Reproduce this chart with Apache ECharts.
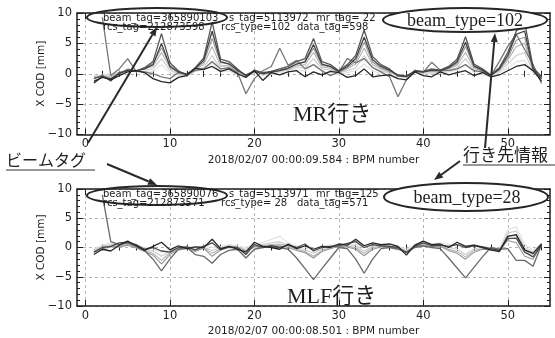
<!DOCTYPE html>
<html>
<head>
<meta charset="utf-8">
<script src="https://cdn.jsdelivr.net/npm/echarts@6/dist/echarts.min.js"></script>
<style>
  html, body { margin: 0; padding: 0; background: #fff; }
  #bpm-cod { width: 555px; height: 338px; }
</style>
</head>
<body>
<div id="bpm-cod"></div>
<script>
// BPM numbers (x)
var bpm = [1,2,3,4,5,6,7,8,9,10,11,12,13,14,15,16,17,18,19,20,21,22,23,24,25,26,27,28,29,30,
  31,32,33,34,35,36,37,38,39,40,41,42,43,44,45,46,47,48,49,50,51,52,53,54];
var xMajorTicks = [0, 10, 20, 30, 40, 50];
var xMinorTicks = [2,4,6,8,12,14,16,18,22,24,26,28,32,34,36,38,42,44,46,48,52,54];

// MR行き  (beam_type=102), X COD [mm], light -> dark
var mrLight1 = [-0.3,-0.2,0.0,0.3,0.4,0.3,0.5,0.4,1.5,0.2, -0.3,-0.5,0.4,0.6,1.8,0.3,0.5,-0.2,-0.5,0.2,
  -0.3,-0.1,0.2,0.3,0.6,0.4,1.5,0.3,0.2,-0.2, 0.2,0.5,1.6,0.4,0.1,-0.2,-0.5,-0.5,0.2,0.0,
  0.1,0.0,0.3,0.6,1.5,0.2,-0.1,-0.5,0.2,1.0, 2.0,2.2,0.2,-0.8];
var mrLight2 = [-0.5,-0.3,-0.2,0.2,0.6,0.4,0.7,0.8,2.5,0.6, -0.1,-0.4,0.5,1.0,3.0,0.8,0.9,0.1,-0.3,0.3,
  -0.1,0.1,0.4,0.6,1.0,1.0,2.5,0.8,0.6,0.1, 0.5,1.0,3.0,1.0,0.5,0.1,-0.3,-0.4,0.3,0.2,
  0.3,0.2,0.6,1.0,2.5,0.6,0.2,-0.3,0.4,1.6, 3.0,3.5,0.4,-0.6];
var mrLight3 = [-0.6,-0.4,-0.5,0.1,0.7,0.5,0.9,1.2,3.5,1.0, 0.1,-0.3,0.7,1.5,4.5,1.3,1.3,0.3,-0.2,0.4,
  0.0,0.2,0.5,0.8,1.3,1.5,3.5,1.1,0.9,0.2, 0.8,1.6,4.2,1.5,0.8,0.3,-0.2,-0.4,0.4,0.3,
  0.4,0.3,0.8,1.4,3.5,0.9,0.4,-0.2,0.6,2.2, 4.5,5.0,0.6,-0.7];
var mrMid = [-0.7,-0.5,-0.8,0.0,0.8,0.4,1.0,1.6,4.3,1.4, 0.3,-0.2,0.8,1.9,5.8,1.8,1.7,0.5,-0.3,0.5,
  0.1,0.3,0.6,1.0,1.6,1.9,4.2,1.4,1.1,0.3, 1.0,2.0,5.2,1.9,1.0,0.4,-0.2,-0.5,0.4,0.3,
  0.5,0.4,0.9,1.7,4.5,1.1,0.5,-0.2,0.7,2.6, 5.5,6.0,0.7,-0.9];
var mrOdd = [null,9.3,-0.3,0.8,2.5,0.4,0.3,0.0,-0.5,-0.8, 0.2,0.0,0.5,0.8,2.0,0.8,1.0,0.2,-3.3,-0.8,
  0.5,1.2,4.2,1.4,2.2,0.8,1.5,0.5,-0.3,0.3, 2.5,1.8,2.5,1.0,0.3,-0.5,-3.8,-1.0,0.6,0.2,
  1.9,0.6,0.5,0.8,1.5,0.5,0.3,-0.3,2.0,4.5, 6.5,4.0,1.5,-1.6];
var mrDark1 = [-0.8,-0.3,-1.2,0.2,0.5,0.4,1.0,2.0,6.6,1.8, 0.5,-0.2,1.0,2.6,8.5,2.4,2.0,0.8,-0.4,0.6,
  0.2,0.4,0.8,1.2,2.0,2.5,5.8,2.0,1.5,0.5, 1.5,3.0,7.2,2.8,1.5,0.8,-0.4,-0.5,0.5,0.4,
  0.8,0.6,1.2,2.4,6.1,1.6,0.8,-0.2,1.0,3.5, 7.0,8.5,1.0,-0.5];
var mrDark2 = [-1.2,-0.6,-0.8,0.0,0.6,0.5,0.8,1.5,5.0,1.2, 0.3,-0.1,0.9,2.2,7.0,2.0,1.6,0.6,-0.2,0.4,
  0.0,0.3,0.5,0.9,1.6,2.0,4.8,1.6,1.2,0.4, 1.2,2.5,6.0,2.3,1.2,0.6,-0.2,-0.4,0.4,0.3,
  0.6,0.5,1.0,2.0,5.2,1.3,0.6,-0.3,0.8,3.0, 6.5,7.0,0.8,-0.8];
var mrDark3 = [-1.5,-0.5,-1.0,-0.3,0.3,0.5,0.2,-0.8,-1.3,-1.5, -0.6,-0.3,0.9,0.7,1.2,0.4,0.8,0.0,-0.6,0.5,
  -1.1,0.2,-0.2,0.3,0.5,-0.5,0.3,-0.2,0.4,0.2, -0.6,-0.3,0.8,-0.5,-0.3,-0.2,-0.8,-1.0,0.3,-0.3,
  -0.5,0.3,-0.2,0.2,0.5,-0.3,0.2,-0.5,-0.2,0.5, 1.2,1.5,0.5,-1.2];

// MLF行き (beam_type=28)
var mlfLight1 = [-0.2,0.4,0.8,0.5,0.8,0.3,0.0,-0.2,-0.8,-0.3, 0.0,0.2,0.0,0.3,0.0,0.2,0.5,0.3,0.0,0.5,
  0.8,1.4,1.9,0.8,0.3,0.0,-0.5,0.2,0.4,0.6, 0.5,0.6,0.0,0.5,0.6,0.4,0.2,-0.3,0.5,0.8,
  0.6,0.8,0.5,0.6,0.3,0.5,0.2,0.0,-0.3,3.0, 3.6,0.5,-0.5,0.8];
var mlfLight2 = [-0.4,0.2,0.5,0.3,0.6,0.2,-0.3,-0.6,-1.5,-0.6, -0.2,0.0,-0.3,0.1,-0.5,0.0,0.3,0.1,-0.3,0.3,
  0.5,0.8,1.0,0.4,0.0,-0.4,-1.0,-0.2,0.2,0.4, 0.3,0.3,-0.6,0.2,0.4,0.3,0.0,-0.5,0.3,0.5,
  0.4,0.5,0.0,-0.3,-1.2,-0.2,0.0,-0.2,-0.4,2.5, 2.8,0.0,-0.8,0.7];
var mlfLight3 = [-0.6,0.0,0.3,0.2,0.5,0.0,-0.5,-1.0,-2.2,-0.9, -0.3,-0.1,-0.5,0.0,-1.0,-0.2,0.1,0.0,-0.5,0.2,
  0.3,0.5,0.6,0.2,-0.3,-0.7,-1.5,-0.5,0.0,0.3, 0.2,0.0,-1.0,0.0,0.2,0.2,-0.1,-0.7,0.2,0.4,
  0.2,0.3,-0.3,-0.7,-1.6,-0.5,-0.2,-0.3,-0.5,2.0, 2.0,-0.5,-1.2,0.6];
var mlfMid = [-0.8,-0.2,0.1,0.1,0.4,-0.1,-0.7,-1.3,-2.8,-1.2, -0.4,-0.2,-0.7,-0.1,-1.5,-0.4,0.0,-0.1,-0.7,0.1,
  0.2,0.3,0.3,0.0,-0.5,-0.9,-1.8,-0.7,-0.2,0.2, 0.1,-0.3,-1.4,-0.3,0.1,0.1,-0.2,-0.8,0.1,0.3,
  0.1,0.2,-0.5,-1.0,-2.0,-0.8,-0.3,-0.4,-0.6,1.2, 0.8,-1.5,-2.0,0.5];
var mlfOdd = [null,9.0,1.0,0.5,0.8,0.2,-0.5,-2.0,-4.0,-2.0, -0.3,0.0,-1.2,-1.5,-2.7,-1.2,-0.5,-0.3,-1.8,-0.3,
  0.0,0.2,0.0,-0.3,-1.8,-3.6,-5.5,-3.6,-1.8,0.0, -0.2,-2.0,-4.4,-2.0,-0.2,0.0,-0.3,-0.8,0.0,0.3,
  0.0,-0.2,-1.8,-3.5,-5.2,-3.4,-1.6,0.0,-0.3,-0.2, -2.2,-2.2,-3.2,0.5];
var mlfDark1 = [-0.8,0.0,0.2,0.8,0.9,0.5,-0.3,0.0,-0.6,-0.8, 0.0,0.1,-0.4,0.2,0.8,-0.4,0.1,0.0,-1.2,0.5,
  0.0,0.3,0.0,0.4,0.0,0.6,-0.6,0.0,0.2,0.3, 0.7,1.0,0.0,0.5,0.3,0.2,0.0,-0.9,0.2,0.8,
  0.3,0.4,0.2,0.5,0.0,0.3,0.1,-0.2,-0.5,1.5, 1.6,-0.8,-1.6,0.4];
var mlfDark2 = [-1.2,-0.3,-0.6,0.4,1.1,0.3,-0.5,0.2,0.9,-0.4, 0.3,-0.2,0.1,0.0,1.4,-0.2,0.2,-0.3,-0.8,0.9,
  0.2,0.0,-0.3,0.6,-0.2,0.3,-0.3,0.2,0.0,0.6, 0.4,1.4,0.3,0.8,0.5,0.6,0.2,-1.3,0.4,1.1,
  0.5,0.6,0.0,0.9,0.2,0.4,0.0,-0.4,-0.7,1.9, 2.2,-0.4,-1.0,0.6];

var mrSeries = [mrLight1, mrLight2, mrLight3, mrMid, mrOdd, mrDark1, mrDark2, mrDark3];
var mrColors = ["#e0e0e0", "#cbcbcb", "#b2b2b2", "#969696", "#767676", "#575757", "#414141", "#262626"];
var mlfSeries = [mlfLight1, mlfLight2, mlfLight3, mlfMid, mlfOdd, mlfDark1, mlfDark2];
var mlfColors = ["#e0e0e0", "#cbcbcb", "#b2b2b2", "#969696", "#6a6a6a", "#4a4a4a", "#262626"];

var FONT = "DejaVu Sans";
var INK = "#1e1e1e";

function toPoints(values) {
  var pts = [];
  for (var i = 0; i < bpm.length; i++) {
    if (values[i] !== null) pts.push([bpm[i], values[i]]);
  }
  return pts;
}

function minus(v) {
  return v < 0 ? "\u2212" + (-v) : "" + v;
}

function xAxesFor(gridIndex, name) {
  var base = { type: "value", gridIndex: gridIndex, min: -1, max: 55, splitLine: { show: false }, axisLabel: { show: false } };
  return [
    Object.assign({}, base, {
      position: "bottom",
      axisLine: { show: true, onZero: false, lineStyle: { color: INK, width: 1.5 } },
      axisTick: { show: true, inside: true, length: 6, customValues: xMajorTicks, lineStyle: { color: INK } },
      axisLabel: { show: true, customValues: xMajorTicks, color: INK, fontSize: 11.5, fontFamily: FONT, margin: 4 },
      splitLine: { show: true, lineStyle: { color: "#b4b4b4", type: [3, 3], width: 1 } },
      name: name,
      nameLocation: "middle",
      nameGap: 20,
      nameMoveOverlap: false,
      nameTextStyle: { color: INK, fontSize: 10.5, fontFamily: FONT }
    }),
    Object.assign({}, base, {
      position: "bottom",
      axisLine: { show: false },
      axisTick: { show: true, inside: true, length: 3, customValues: xMinorTicks, lineStyle: { color: INK } }
    }),
    Object.assign({}, base, {
      position: "top",
      axisLine: { show: true, onZero: false, lineStyle: { color: INK, width: 1.5 } },
      axisTick: { show: true, inside: true, length: 6, customValues: xMajorTicks, lineStyle: { color: INK } }
    }),
    Object.assign({}, base, {
      position: "top",
      axisLine: { show: false },
      axisTick: { show: true, inside: true, length: 3, customValues: xMinorTicks, lineStyle: { color: INK } }
    })
  ];
}

function yAxesFor(gridIndex) {
  var base = {
    type: "value", gridIndex: gridIndex, min: -10, max: 10, interval: 5,
    axisLine: { show: true, onZero: false, lineStyle: { color: INK, width: 1.5 } },
    axisTick: { show: true, inside: true, length: 6, lineStyle: { color: INK } },
    minorTick: { show: true, splitNumber: 5, length: 3, lineStyle: { color: INK } }
  };
  return [
    Object.assign({}, base, {
      position: "left",
      axisLabel: { color: INK, fontSize: 11.5, fontFamily: FONT, margin: 5, formatter: minus },
      splitLine: { show: true, lineStyle: { color: "#b4b4b4", type: [3, 3], width: 1 } },
      name: "X COD [mm]",
      nameLocation: "middle",
      nameRotate: 90,
      nameGap: 30,
      nameMoveOverlap: false,
      nameTextStyle: { color: INK, fontSize: 10.5, fontFamily: FONT }
    }),
    Object.assign({}, base, {
      position: "right",
      axisLabel: { show: false },
      splitLine: { show: false }
    })
  ];
}

function seriesFor(list, colors, xIndex, yIndex) {
  return list.map(function (vals, i) {
    return {
      type: "line",
      xAxisIndex: xIndex,
      yAxisIndex: yIndex,
      data: toPoints(vals),
      symbol: "none",
      silent: true,
      lineStyle: { color: colors[i], width: i >= 4 ? 1.3 : 1.1 }
    };
  });
}

function txt(text, x, y, font, align) {
  return {
    type: "text", z: 100,
    style: { text: text, x: x, y: y, font: font, fill: INK, align: align || "left", verticalAlign: "middle" }
  };
}

function ellipse(cx, cy, rx, ry, fill) {
  return {
    type: "ellipse", z: 99,
    shape: { cx: cx, cy: cy, rx: rx, ry: ry },
    style: { fill: fill, stroke: "#262626", lineWidth: 2 }
  };
}

function arrow(x1, y1, x2, y2) {
  var ang = Math.atan2(y2 - y1, x2 - x1);
  var len = 9, w = 3.5;
  var bx = x2 - len * Math.cos(ang), by = y2 - len * Math.sin(ang);
  var px = -Math.sin(ang) * w, py = Math.cos(ang) * w;
  return [
    { type: "line", z: 101, shape: { x1: x1, y1: y1, x2: bx, y2: by }, style: { stroke: "#2a2a2a", lineWidth: 2 } },
    { type: "polygon", z: 101, shape: { points: [[x2, y2], [bx + px, by + py], [bx - px, by - py]] }, style: { fill: "#2a2a2a" } }
  ];
}

function underline(x1, x2, y) {
  return { type: "line", z: 100, shape: { x1: x1, y1: y, x2: x2, y2: y }, style: { stroke: "#333", lineWidth: 1 } };
}

var small = "10px '" + FONT + "'";
var serif = "18px 'Liberation Serif'";
var big = "22px 'Liberation Serif', 'Noto Sans CJK JP'";
var jp = "16px 'Noto Sans CJK JP'";

var graphics = [
  // MR panel header text
  txt("beam_tag=365890103", 103, 18.5, small),
  txt("s_tag=5113972", 229, 18.5, small),
  txt("mr_tag= 22", 316, 18.5, small),
  txt("rcs_tag=212873598", 103, 27, small),
  txt("rcs_type=102", 221, 27, small),
  txt("data_tag=598", 297, 27, small),
  ellipse(157, 17.5, 70, 9.5, "none"),
  ellipse(465, 20, 82, 12, "#fff"),
  txt("beam_type=102", 465, 21, serif, "center"),
  txt("MR行き", 293, 115, big),
  // MLF panel header text
  txt("beam_tag=365890076", 103, 194.5, small),
  txt("s_tag=5113971", 229, 194.5, small),
  txt("mr_tag=125", 316, 194.5, small),
  txt("rcs_tag=212873571", 103, 203, small),
  txt("rcs_type= 28", 221, 203, small),
  txt("data_tag=571", 297, 203, small),
  ellipse(157, 195.5, 70, 9.5, "none"),
  ellipse(466, 197, 82, 14, "#fff"),
  txt("beam_type=28", 467, 198, serif, "center"),
  txt("MLF行き", 287, 297, big),
  // side labels
  txt("ビームタグ", 6, 160, jp),
  underline(6, 95, 170),
  txt("行き先情報", 463, 155, "17px 'Noto Sans CJK JP'"),
  underline(463, 555, 165)
]
  .concat(arrow(88, 143, 157, 27))
  .concat(arrow(107, 164, 157, 185))
  .concat(arrow(485, 148, 495, 33))
  .concat(arrow(460, 161, 434, 180));

var option = {
  animation: false,
  backgroundColor: "#fff",
  textStyle: { fontFamily: FONT },
  grid: [
    { left: 77, right: 5, top: 13, height: 121.5 },
    { left: 77, right: 5, top: 189, height: 121.5 }
  ],
  xAxis: xAxesFor(0, "2018/02/07 00:00:09.584 : BPM number")
    .concat(xAxesFor(1, "2018/02/07 00:00:08.501 : BPM number")),
  yAxis: yAxesFor(0).concat(yAxesFor(1)),
  series: seriesFor(mrSeries, mrColors, 0, 0).concat(seriesFor(mlfSeries, mlfColors, 4, 2)),
  graphic: { elements: graphics }
};

var chart = echarts.init(document.getElementById("bpm-cod"));
chart.setOption(option);
window.addEventListener("resize", function () {
  chart.resize();
});
</script>
</body>
</html>
